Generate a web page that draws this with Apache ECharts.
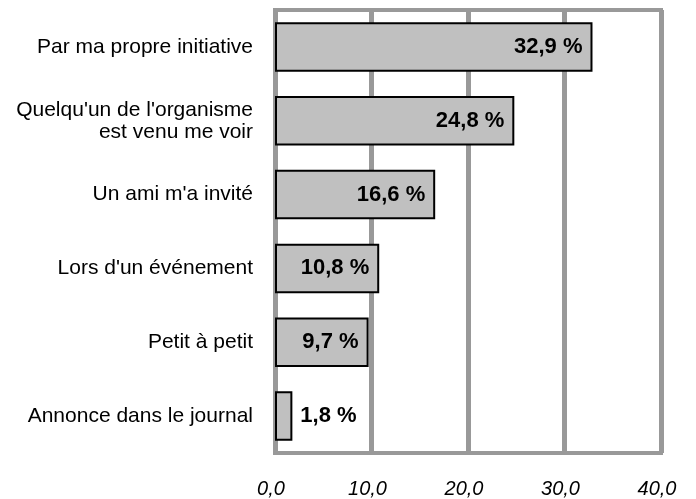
<!DOCTYPE html>
<html>
<head>
<meta charset="utf-8">
<script src="https://cdn.jsdelivr.net/npm/echarts@6/dist/echarts.min.js"></script>
<style>
html,body{margin:0;padding:0;background:#fff;}
#chart{width:696px;height:499px;}
</style>
</head>
<body>
<div id="chart"></div>
<script>
var categories = [
  "Par ma propre initiative",
  "Quelqu'un de l'organisme\nest venu me voir",
  "Un ami m'a invité",
  "Lors d'un événement",
  "Petit à petit",
  "Annonce dans le journal"
];
var values = [32.9, 24.8, 16.6, 10.8, 9.7, 1.8];
var outsideLabel = [false, false, false, false, false, true];
var axisMin = 0, axisMax = 40, axisStep = 10;

function fr(v) { return v.toFixed(1).replace('.', ','); }

var data = values.map(function (v, i) {
  return {
    value: v,
    label: outsideLabel[i]
      ? { position: 'right', distance: 8 }
      : { position: 'insideRight', distance: 10 }
  };
});

var chart = echarts.init(document.getElementById('chart'));
chart.setOption({
  animation: false,
  backgroundColor: '#fff',
  grid: {
    left: 275, right: 35, top: 10, bottom: 44,
    show: true, borderColor: '#999', borderWidth: 4, backgroundColor: 'transparent'
  },
  xAxis: {
    type: 'value', min: axisMin, max: axisMax, interval: axisStep,
    axisLine: { show: false }, axisTick: { show: false },
    splitLine: { show: true, lineStyle: { color: '#999', width: 5 } },
    axisLabel: {
      margin: 26, fontFamily: 'Arial, Liberation Sans', fontSize: 20, fontStyle: 'italic',
      color: '#000', padding: [0, 8, 0, 0], formatter: function (v) { return fr(v); }
    }
  },
  yAxis: {
    type: 'category', data: categories, inverse: true,
    axisLine: { show: false }, axisTick: { show: false },
    axisLabel: {
      margin: 22, fontFamily: 'Arial, Liberation Sans', fontSize: 21, color: '#000',
      align: 'right', lineHeight: 22
    }
  },
  series: [{
    type: 'bar', data: data, barCategoryGap: '33%',
    itemStyle: { color: '#C0C0C0', borderColor: '#000', borderWidth: 2 },
    label: {
      show: true, color: '#000', fontWeight: 'bold', fontSize: 22,
      fontFamily: 'Arial, Liberation Sans',
      formatter: function (p) { return fr(p.value) + ' %'; }
    }
  }]
});
</script>
</body>
</html>
